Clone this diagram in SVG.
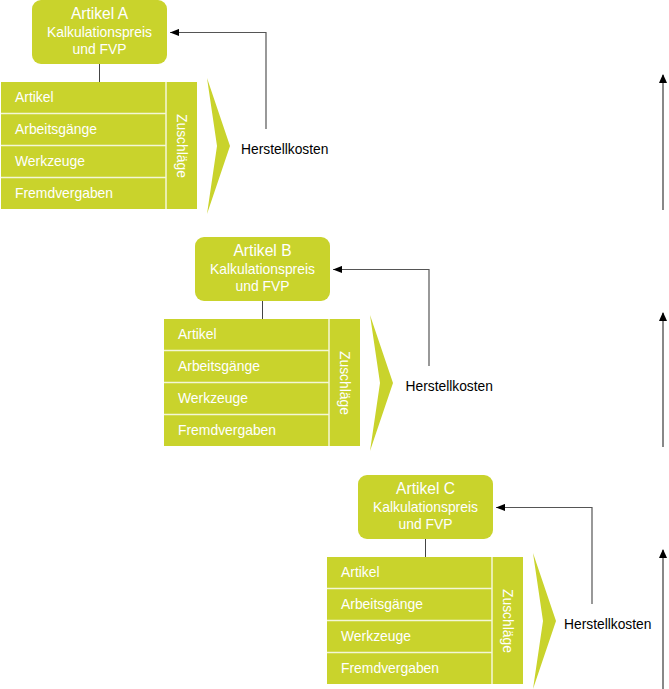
<svg xmlns="http://www.w3.org/2000/svg" width="669" height="689" viewBox="0 0 669 689">
<defs>
<style>
.g{fill:#c9d32c}
.t{font-family:"Liberation Sans",Arial,sans-serif;fill:#fff;font-size:13.9px}
.h{font-family:"Liberation Sans",Arial,sans-serif;fill:#000;font-size:13.8px}
.ti{font-size:15.6px}
.div{stroke:#f4f7d6;stroke-width:1.5}
.con{stroke:#444;stroke-width:1;fill:none}
.fb{stroke:#555;stroke-width:1.2;fill:none}
.up{stroke:#888;stroke-width:2;fill:none}
</style>
<marker id="ah" viewBox="0 0 10 8" refX="10" refY="4" markerWidth="9" markerHeight="8" markerUnits="userSpaceOnUse" orient="auto"><path d="M0,0L10,4L0,8z" fill="#000"/></marker>
<marker id="ah2" viewBox="0 0 10 9" refX="9" refY="4.5" markerWidth="9" markerHeight="10" markerUnits="userSpaceOnUse" orient="auto"><path d="M0,0L10,4.5L0,9z" fill="#000"/></marker>
<g id="block">
<g class="box"><rect class="g" x="32" y="0" width="135" height="64" rx="9"/></g>
<g class="table">
<rect class="g" x="1" y="82" width="196" height="127"/>
<line class="div" x1="1" y1="113.5" x2="166" y2="113.5"/>
<line class="div" x1="1" y1="145.5" x2="166" y2="145.5"/>
<line class="div" x1="1" y1="177.5" x2="166" y2="177.5"/>
<line class="div" x1="166" y1="82" x2="166" y2="209"/>
<text class="t" x="15" y="102">Artikel</text>
<text class="t" x="15" y="134">Arbeitsgänge</text>
<text class="t" x="15" y="166">Werkzeuge</text>
<text class="t" x="15" y="198">Fremdvergaben</text>
<text class="t" transform="translate(176.5,146) rotate(90)" text-anchor="middle">Zuschläge</text>
</g>
<polygon class="g" points="207,78 230,146 207,214 217,146"/>
</g>
</defs>

<g id="artikel-a">
<use href="#block"/>
<text class="t ti" x="99.5" y="18.5" text-anchor="middle">Artikel A</text>
<text class="t" x="99.5" y="37" text-anchor="middle">Kalkulationspreis</text>
<text class="t" x="99.5" y="53.5" text-anchor="middle">und FVP</text>
<text class="h" x="241" y="154">Herstellkosten</text>
</g>
<g id="artikel-b" transform="translate(163,237)">
<use href="#block"/>
<text class="t ti" x="99.5" y="18.5" text-anchor="middle">Artikel B</text>
<text class="t" x="99.5" y="37" text-anchor="middle">Kalkulationspreis</text>
<text class="t" x="99.5" y="53.5" text-anchor="middle">und FVP</text>
<text class="h" x="242.5" y="154">Herstellkosten</text>
</g>
<g id="artikel-c" transform="translate(326,475)">
<use href="#block"/>
<text class="t ti" x="99.5" y="18.5" text-anchor="middle">Artikel C</text>
<text class="t" x="99.5" y="37" text-anchor="middle">Kalkulationspreis</text>
<text class="t" x="99.5" y="53.5" text-anchor="middle">und FVP</text>
<text class="h" x="238" y="154">Herstellkosten</text>
</g>

<g id="connectors">
<line class="con" x1="99.5" y1="64" x2="99.5" y2="82"/>
<line class="con" x1="262.5" y1="301" x2="262.5" y2="319"/>
<line class="con" x1="425.5" y1="539" x2="425.5" y2="557"/>
<polyline class="fb" points="266,129 266,32.5 170,32.5" marker-end="url(#ah)"/>
<polyline class="fb" points="429,366 429,269.5 333,269.5" marker-end="url(#ah)"/>
<polyline class="fb" points="592,604 592,507.5 496,507.5" marker-end="url(#ah)"/>
<line class="up" x1="663" y1="210" x2="663" y2="75" marker-end="url(#ah2)"/>
<line class="up" x1="663" y1="447" x2="663" y2="313" marker-end="url(#ah2)"/>
<line class="up" x1="663" y1="689" x2="663" y2="550" marker-end="url(#ah2)"/>
</g>
</svg>
